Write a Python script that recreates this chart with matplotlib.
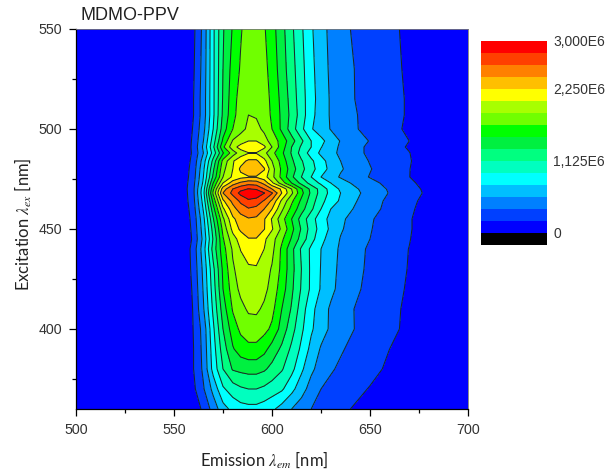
import numpy as np
import matplotlib
matplotlib.use("Agg")
import matplotlib.pyplot as plt
from matplotlib.colors import ListedColormap, BoundaryNorm
from matplotlib.ticker import MultipleLocator

plt.rcParams['font.family'] = ['Liberation Sans', 'DejaVu Sans']
plt.rcParams['mathtext.fontset'] = 'stix'

# intensity in units of one contour step (187.5E6)
STEP = 187.5
emission = [500, 555, 560, 565, 570, 575, 580, 584, 588, 592, 596, 600, 605, 610, 615, 620, 625, 630, 635, 640, 650, 660, 670, 680, 700]
excitation = [360, 370, 380, 390, 400, 410, 420, 430, 440, 445, 450, 455, 460, 464, 468, 470, 473, 476, 480, 484, 488, 491, 494, 500, 507, 515, 530, 550]

ex_360 = [0, 0, .4, 1.2, 2.4, 3.6, 4.3, 4.6, 4.7, 4.7, 4.5, 4.2, 3.6, 3, 2.5, 2, 1.7, 1.45, 1.2, 1, .6, .2, 0, 0, 0]
ex_370 = [0, 0, .8, 1.9, 3.3, 4.85, 5.5, 5.85, 6, 6, 5.8, 5.5, 5.15, 4.3, 3.4, 2.6, 2, 1.75, 1.5, 1.3, .95, .5, .1, 0, 0]
ex_380 = [0, 0, 1, 2.2, 4.35, 6, 7.1, 7.25, 7.35, 7.35, 7.15, 6.7, 6.1, 5.3, 4.2, 3.2, 2.6, 2.1, 1.85, 1.65, 1.25, .85, .45, 0, 0]
ex_390 = [0, 0, 1, 2.3, 4.55, 6.5, 7.9, 8.5, 8.75, 8.75, 8.3, 7.6, 6.8, 5.8, 4.8, 3.7, 2.9, 2.5, 2.1, 1.85, 1.4, 1, .6, .1, 0]
ex_400 = [0, .05, 1.05, 2.4, 4.8, 7, 8.5, 9.2, 9.5, 9.5, 9.3, 8.8, 7.6, 6.4, 5.2, 4.15, 3.4, 2.85, 2.45, 2.1, 1.6, 1.2, .8, .25, 0]
ex_410 = [0, .1, 1.1, 2.9, 5.2, 7.5, 9.1, 9.7, 10.15, 10.2, 9.8, 9.3, 8, 6.9, 5.5, 4.3, 3.5, 2.85, 2.45, 2.1, 1.55, 1.2, .85, .25, 0]
ex_420 = [0, .15, 1.2, 3.1, 5.5, 8, 9.5, 10.25, 10.6, 10.65, 10.3, 9.6, 8.5, 7.2, 5.9, 4.8, 3.9, 3.25, 2.7, 2.35, 1.7, 1.3, .9, .3, 0]
ex_430 = [0, .2, 1.35, 3.25, 5.75, 8.2, 9.85, 10.5, 10.85, 10.9, 10.5, 9.9, 8.75, 7.35, 6, 4.8, 3.95, 3.3, 2.8, 2.45, 1.8, 1.4, .95, .35, 0]
ex_440 = [0, .2, 1.45, 3.55, 6.4, 8.6, 10.15, 11.05, 11.5, 11.5, 11, 10.3, 8.8, 7.3, 5.85, 4.8, 4, 3.4, 2.85, 2.5, 1.85, 1.45, .98, .4, 0]
ex_445 = [0, .2, 1.2, 3.3, 6.1, 8.9, 10.6, 11.4, 11.95, 11.95, 11.2, 10.4, 9.2, 7.9, 6.6, 5.35, 4.35, 3.5, 2.95, 2.6, 2, 1.5, 1.05, .35, 0]
ex_450 = [0, .25, 1.3, 3.5, 6.4, 9.3, 11.3, 12.2, 12.5, 12.5, 12.05, 11.1, 9.8, 8.3, 6.9, 5.55, 4.6, 3.8, 3.1, 2.75, 2.05, 1.6, 1.1, .4, 0]
ex_455 = [0, .3, 1.4, 3.7, 6.9, 9.8, 11.8, 12.5, 12.9, 12.8, 12.1, 10.9, 9.4, 8, 6.6, 5.4, 4.45, 3.7, 3.2, 2.8, 2.1, 1.6, 1.1, .4, 0]
ex_460 = [0, .35, 1.6, 4.1, 7.6, 10.8, 12.6, 13.5, 13.9, 13.7, 13, 12, 10.2, 8.7, 7.4, 6.2, 5, 4, 3.5, 3.1, 2.3, 1.75, 1.2, .5, 0]
ex_464 = [0, .45, 1.75, 4.4, 8.3, 11.8, 13.3, 14.2, 14.8, 14.6, 13.9, 12.8, 10.8, 9.2, 7.8, 6.5, 5.3, 4.5, 3.85, 3.3, 2.4, 1.8, 1.3, .6, 0]
ex_468 = [0, .5, 1.85, 4.7, 9.2, 13, 14.3, 15.3, 15.8, 15.7, 15.05, 14.1, 12, 10.2, 8.3, 6.8, 5.6, 4.7, 4, 3.45, 2.6, 1.95, 1.4, .8, 0]
ex_470 = [0, .55, 1.85, 4.6, 8.8, 12.5, 14, 14.7, 15.05, 14.9, 14, 13, 11.8, 10, 8.1, 6.7, 5.6, 4.6, 3.85, 3.35, 2.5, 1.9, 1.35, .75, 0]
ex_473 = [0, .5, 1.75, 4.2, 8, 11, 12.5, 13.2, 13.6, 13.5, 12.7, 11.2, 9.5, 8, 6.7, 5.6, 4.8, 4, 3.5, 3, 2.3, 1.7, 1.2, .6, 0]
ex_476 = [0, .45, 1.6, 4, 7.2, 10, 11.2, 11.7, 11.9, 11.9, 11.4, 10.3, 8.7, 7.2, 6, 5, 4, 3.4, 2.9, 2.55, 1.95, 1.5, 1.02, .35, 0]
ex_480 = [0, .4, 1.5, 3.8, 6.8, 9.7, 11, 12.2, 12.9, 12.9, 12.1, 10.4, 8.8, 7.5, 6.3, 5.35, 4.5, 3.7, 3.1, 2.75, 2.05, 1.5, 1.03, .35, 0]
ex_484 = [0, .35, 1.35, 3.5, 6.3, 9.3, 10.9, 11.6, 12.2, 12.2, 11.3, 10, 8.6, 7.2, 6.1, 5.2, 4.35, 3.6, 3, 2.55, 1.95, 1.45, 1.08, .4, 0]
ex_488 = [0, .3, 1.2, 3, 5.4, 7.9, 9.5, 10.5, 10.95, 10.95, 10.3, 9.3, 8.2, 6.9, 5.6, 4.6, 3.8, 3.3, 2.8, 2.45, 1.8, 1.4, 1.03, .35, 0]
ex_491 = [0, .3, 1.25, 3.2, 5.8, 8.8, 10.6, 11.4, 11.9, 11.9, 11.2, 10, 8.5, 7, 5.85, 5, 4.05, 3.4, 2.85, 2.45, 1.8, 1.4, .9, .3, 0]
ex_494 = [0, .3, 1.2, 3, 5.5, 8.2, 10.1, 10.5, 11, 11, 10.4, 9.6, 8.6, 7.4, 6.2, 5, 4.3, 3.5, 2.95, 2.6, 1.95, 1.45, 1, .35, 0]
ex_500 = [0, .25, 1.1, 2.7, 5, 7.5, 9, 9.7, 10.2, 10.3, 9.8, 9, 7.8, 6.5, 5.25, 4.1, 3.45, 2.95, 2.6, 2.2, 1.7, 1.25, .85, .3, 0]
ex_507 = [0, .2, 1, 2.5, 4.8, 7.2, 8.7, 9.5, 10, 9.9, 9.5, 8.85, 7.8, 6.7, 5.5, 4.3, 3.5, 2.9, 2.5, 2.2, 1.65, 1.3, .9, .3, 0]
ex_515 = [0, .2, 1, 2.5, 4.8, 7.1, 8.6, 9.4, 9.8, 9.8, 9.4, 8.8, 7.7, 6.6, 5.4, 4.4, 3.5, 2.9, 2.5, 2.1, 1.65, 1.3, .9, .3, 0]
ex_530 = [0, .2, .9, 2.4, 4.8, 7, 8.4, 9.1, 9.6, 9.7, 9.3, 8.6, 7.5, 6.4, 5.3, 4.3, 3.4, 2.85, 2.45, 2.1, 1.6, 1.25, .85, .3, 0]
ex_550 = [0, .2, .8, 2.3, 4.8, 6.9, 8.1, 8.9, 9.5, 9.5, 9.1, 8.4, 7.35, 6.2, 5.15, 4.15, 3.3, 2.8, 2.4, 2, 1.6, 1.2, .8, .3, 0]

rows = [ex_360, ex_370, ex_380, ex_390, ex_400, ex_410, ex_420, ex_430, ex_440, ex_445, ex_450, ex_455,
        ex_460, ex_464, ex_468, ex_470, ex_473, ex_476, ex_480, ex_484, ex_488, ex_491, ex_494, ex_500,
        ex_507, ex_515, ex_530, ex_550]

band_colors = ['#0000ff', '#0040ff', '#0080ff', '#00bfff', '#00ffff', '#00ffbf', '#00ff80', '#00f040',
               '#00ff00', '#70ff00', '#a8ff00', '#ffff00', '#ffbf00', '#ff8000', '#ff4000', '#ff0000']
bar_ticks = [0, 1125, 2250, 3000]
bar_labels = ['0', '1,125E6', '2,250E6', '3,000E6']

Z = np.array(rows) * STEP
levels = np.arange(0, 3000.1, STEP)

W, H = 612, 472
fig = plt.figure(figsize=(W / 100, H / 100), dpi=100, facecolor='white')
ax = fig.add_axes([76 / W, 1 - 409 / H, 392 / W, 380 / H])

fill_levels = levels.copy()
fill_levels[0] = -1
ax.contourf(emission, excitation, Z, levels=fill_levels, colors=band_colors)
ax.contour(emission, excitation, Z, levels=levels[1:-1], colors='#1a2a2a', linewidths=0.75)

ax.set_xlim(500, 700)
ax.set_ylim(360, 550)
ax.xaxis.set_major_locator(MultipleLocator(50))
ax.xaxis.set_minor_locator(MultipleLocator(25))
ax.yaxis.set_major_locator(MultipleLocator(50))
ax.yaxis.set_minor_locator(MultipleLocator(25))
ax.tick_params(which='major', direction='out', length=5, width=0.9, labelsize=10.3, labelcolor='#333333', pad=5)
ax.tick_params(which='minor', direction='out', length=3, width=0.9)
for s in ['top', 'right']:
    ax.spines[s].set_linewidth(0.6)
    ax.spines[s].set_color('#777777')
for s in ['left', 'bottom']:
    ax.spines[s].set_linewidth(0.9)

fig.text(80 / W, 1 - 15 / H, 'MDMO-PPV', fontsize=13, va='center', ha='left', color='#222222')
fig.text(264 / W, 1 - 460 / H, r'Emission $\lambda_{em}$ [nm]', fontsize=12, va='center', ha='center',
         family=['Lato', 'DejaVu Sans'], color='#222222')
fig.text(23 / W, 1 - 224 / H, r'Excitation $\lambda_{ex}$ [nm]', fontsize=12, va='center', ha='center',
         rotation=90, family=['Lato', 'DejaVu Sans'], color='#222222')

# colour bar: a black band under 0, then one band per contour step
cax = fig.add_axes([481 / W, 1 - 245 / H, 66 / W, 204 / H])
edges = np.concatenate([[-STEP], levels])
cmap = ListedColormap(['#000000'] + band_colors)
norm = BoundaryNorm(edges, cmap.N)
centers = (edges[:-1] + edges[1:]) / 2
cax.pcolormesh([0, 1], edges, centers[:, None], cmap=cmap, norm=norm, shading='flat')
cax.set_xticks([])
cax.yaxis.tick_right()
cax.set_yticks(bar_ticks)
cax.set_yticklabels(bar_labels)
cax.tick_params(axis='y', length=0, labelsize=10, labelcolor='#333333', pad=4.5)
for s in cax.spines.values():
    s.set_visible(False)

fig.savefig('out.png', dpi=100)
